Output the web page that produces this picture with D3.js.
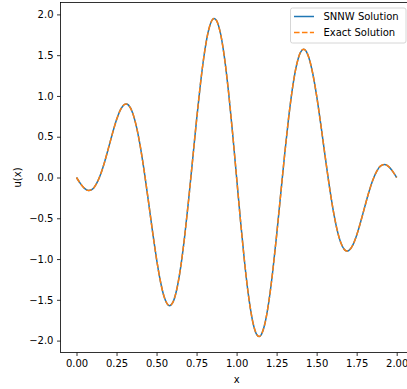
<!DOCTYPE html>
<html>
<head>
<meta charset="utf-8">
<script src="https://cdn.jsdelivr.net/npm/d3@7"></script>
<style>
  html, body { margin: 0; padding: 0; background: #fff; }
  svg { display: block; font-family: "DejaVu Sans", sans-serif; }
</style>
</head>
<body>
<svg id="chart" width="407" height="389"></svg>
<script>
// ---- data ----
const xValues = [0, 0.025, 0.05, 0.075, 0.1, 0.125, 0.15, 0.175, 0.2, 0.225, 0.25, 0.275, 0.3, 0.31, 0.325, 0.35, 0.375, 0.4, 0.425, 0.45, 0.475, 0.5,
  0.525, 0.55, 0.575, 0.58, 0.6, 0.625, 0.65, 0.675, 0.7, 0.725, 0.75, 0.775, 0.8, 0.825, 0.85, 0.86, 0.875, 0.9, 0.925, 0.95, 0.975, 1.0,
  1.025, 1.05, 1.075, 1.1, 1.125, 1.14, 1.15, 1.175, 1.2, 1.225, 1.25, 1.275, 1.3, 1.325, 1.35, 1.375, 1.4, 1.42, 1.425, 1.45, 1.475, 1.5,
  1.525, 1.55, 1.575, 1.6, 1.625, 1.65, 1.675, 1.69, 1.7, 1.725, 1.75, 1.775, 1.8, 1.825, 1.85, 1.875, 1.9, 1.925, 1.95, 1.975, 2.0];

const snnwValues = [0, -0.0756, -0.1338, -0.1596, -0.1421, -0.0761, 0.0366, 0.1879, 0.3633, 0.5436, 0.7071, 0.8315, 0.8968, 0.9026, 0.8875, 0.7947, 0.6173, 0.3633, 0.0486, -0.3032, -0.6634, -1.0,
  -1.2814, -1.4788, -1.5694, -1.5733, -1.5389, -1.3827, -1.1075, -0.7305, -0.2788, 0.2135, 0.7071, 1.1616, 1.5389, 1.8059, 1.9388, 1.9509, 1.9239, 1.7601, 1.4584, 1.0418, 0.5424, 0,
  -0.5424, -1.0418, -1.4584, -1.7601, -1.9239, -1.9509, -1.9388, -1.8059, -1.5389, -1.1616, -0.7071, -0.2135, 0.2788, 0.7305, 1.1075, 1.3827, 1.5389, 1.5733, 1.5694, 1.4788, 1.2814, 1.0,
  0.6634, 0.3032, -0.0486, -0.3633, -0.6173, -0.7947, -0.8875, -0.9026, -0.8968, -0.8315, -0.7071, -0.5436, -0.3633, -0.1879, -0.0366, 0.0761, 0.1421, 0.1596, 0.1338, 0.0756, 0];

const exactValues = [0, -0.0756, -0.1338, -0.1596, -0.1421, -0.0761, 0.0366, 0.1879, 0.3633, 0.5436, 0.7071, 0.8315, 0.8968, 0.9026, 0.8875, 0.7947, 0.6173, 0.3633, 0.0486, -0.3032, -0.6634, -1.0,
  -1.2814, -1.4788, -1.5694, -1.5733, -1.5389, -1.3827, -1.1075, -0.7305, -0.2788, 0.2135, 0.7071, 1.1616, 1.5389, 1.8059, 1.9388, 1.9509, 1.9239, 1.7601, 1.4584, 1.0418, 0.5424, 0,
  -0.5424, -1.0418, -1.4584, -1.7601, -1.9239, -1.9509, -1.9388, -1.8059, -1.5389, -1.1616, -0.7071, -0.2135, 0.2788, 0.7305, 1.1075, 1.3827, 1.5389, 1.5733, 1.5694, 1.4788, 1.2814, 1.0,
  0.6634, 0.3032, -0.0486, -0.3633, -0.6173, -0.7947, -0.8875, -0.9026, -0.8968, -0.8315, -0.7071, -0.5436, -0.3633, -0.1879, -0.0366, 0.0761, 0.1421, 0.1596, 0.1338, 0.0756, 0];

const xTicks = [0, 0.25, 0.5, 0.75, 1.0, 1.25, 1.5, 1.75, 2.0];
const yTicks = [-2.0, -1.5, -1.0, -0.5, 0.0, 0.5, 1.0, 1.5, 2.0];
const seriesNames = ["SNNW Solution", "Exact Solution"];
const seriesColors = ["#1f77b4", "#ff7f0e"];

// ---- layout ----
const svg = d3.select("#chart");
const pLeft = 60.5, pRight = 412.7, pTop = 2.5, pBottom = 352.5;

const x = d3.scaleLinear().domain([-0.1, 2.1]).range([pLeft, pRight]);
const y = d3.scaleLinear().domain([-2.146, 2.146]).range([pBottom, pTop]);

const fmtMinus = s => s.replace("-", "\u2212");

// curves
svg.append("clipPath").attr("id", "clip")
  .append("rect").attr("x", pLeft).attr("y", pTop).attr("width", pRight - pLeft).attr("height", pBottom - pTop);

const line = d3.line().x(d => x(d[0])).y(d => y(d[1])).curve(d3.curveMonotoneX);
const snnw = xValues.map((v, i) => [v, snnwValues[i]]);
const exact = xValues.map((v, i) => [v, exactValues[i]]);

const plot = svg.append("g").attr("clip-path", "url(#clip)");
plot.append("path").datum(snnw).attr("d", line)
  .attr("fill", "none").attr("stroke", seriesColors[0]).attr("stroke-width", 1.5)
  .attr("stroke-linejoin", "round").attr("stroke-linecap", "butt");
plot.append("path").datum(exact).attr("d", line)
  .attr("fill", "none").attr("stroke", seriesColors[1]).attr("stroke-width", 1.5)
  .attr("stroke-dasharray", "5.55,2.4").attr("stroke-linejoin", "round");

// axes
const xAxis = d3.axisBottom(x).tickValues(xTicks).tickSize(3.5).tickPadding(3.5)
  .tickFormat(d => fmtMinus(d3.format(".2f")(d)));
const yAxis = d3.axisLeft(y).tickValues(yTicks).tickSize(3.5).tickPadding(3.5)
  .tickFormat(d => fmtMinus(d3.format(".1f")(d)));

const gx = svg.append("g").attr("transform", `translate(0,${pBottom})`).call(xAxis);
const gy = svg.append("g").attr("transform", `translate(${pLeft},0)`).call(yAxis);
[gx, gy].forEach(g => {
  g.select(".domain").remove();
  g.selectAll(".tick line").attr("stroke", "#000").attr("stroke-width", 0.8);
  g.selectAll(".tick text").attr("fill", "#000").style("font-size", "10px")
    .style("font-family", "'DejaVu Sans', sans-serif");
});

// spines
svg.append("rect").attr("x", pLeft).attr("y", pTop).attr("width", pRight - pLeft).attr("height", pBottom - pTop)
  .attr("fill", "none").attr("stroke", "#000").attr("stroke-width", 0.8);

// axis labels
svg.append("text").attr("x", x(1.0)).attr("y", 383).attr("text-anchor", "middle")
  .style("font-size", "10px").attr("fill", "#000").text("x");
svg.append("text").attr("transform", `translate(21,${(pTop + pBottom) / 2}) rotate(-90)`)
  .attr("text-anchor", "middle").style("font-size", "10px").attr("fill", "#000").text("u(x)");

// legend
const lg = svg.append("g");
const lgX = 290.5, lgY = 8, lgW = 115.5, lgH = 35;
lg.append("rect").attr("x", lgX).attr("y", lgY).attr("width", lgW).attr("height", lgH)
  .attr("rx", 2).attr("fill", "#fff").attr("fill-opacity", 0.8)
  .attr("stroke", "#cccccc").attr("stroke-width", 0.8);
seriesNames.forEach((name, i) => {
  const cy = 16.5 + i * 16;
  const l = lg.append("line").attr("x1", 294).attr("x2", 314).attr("y1", cy).attr("y2", cy)
    .attr("stroke", seriesColors[i]).attr("stroke-width", 1.5);
  if (i === 1) l.attr("stroke-dasharray", "5.55,2.4");
  lg.append("text").attr("x", 323.5).attr("y", cy).attr("dy", "0.35em")
    .style("font-size", "10px").attr("fill", "#000").text(name);
});
</script>
</body>
</html>
